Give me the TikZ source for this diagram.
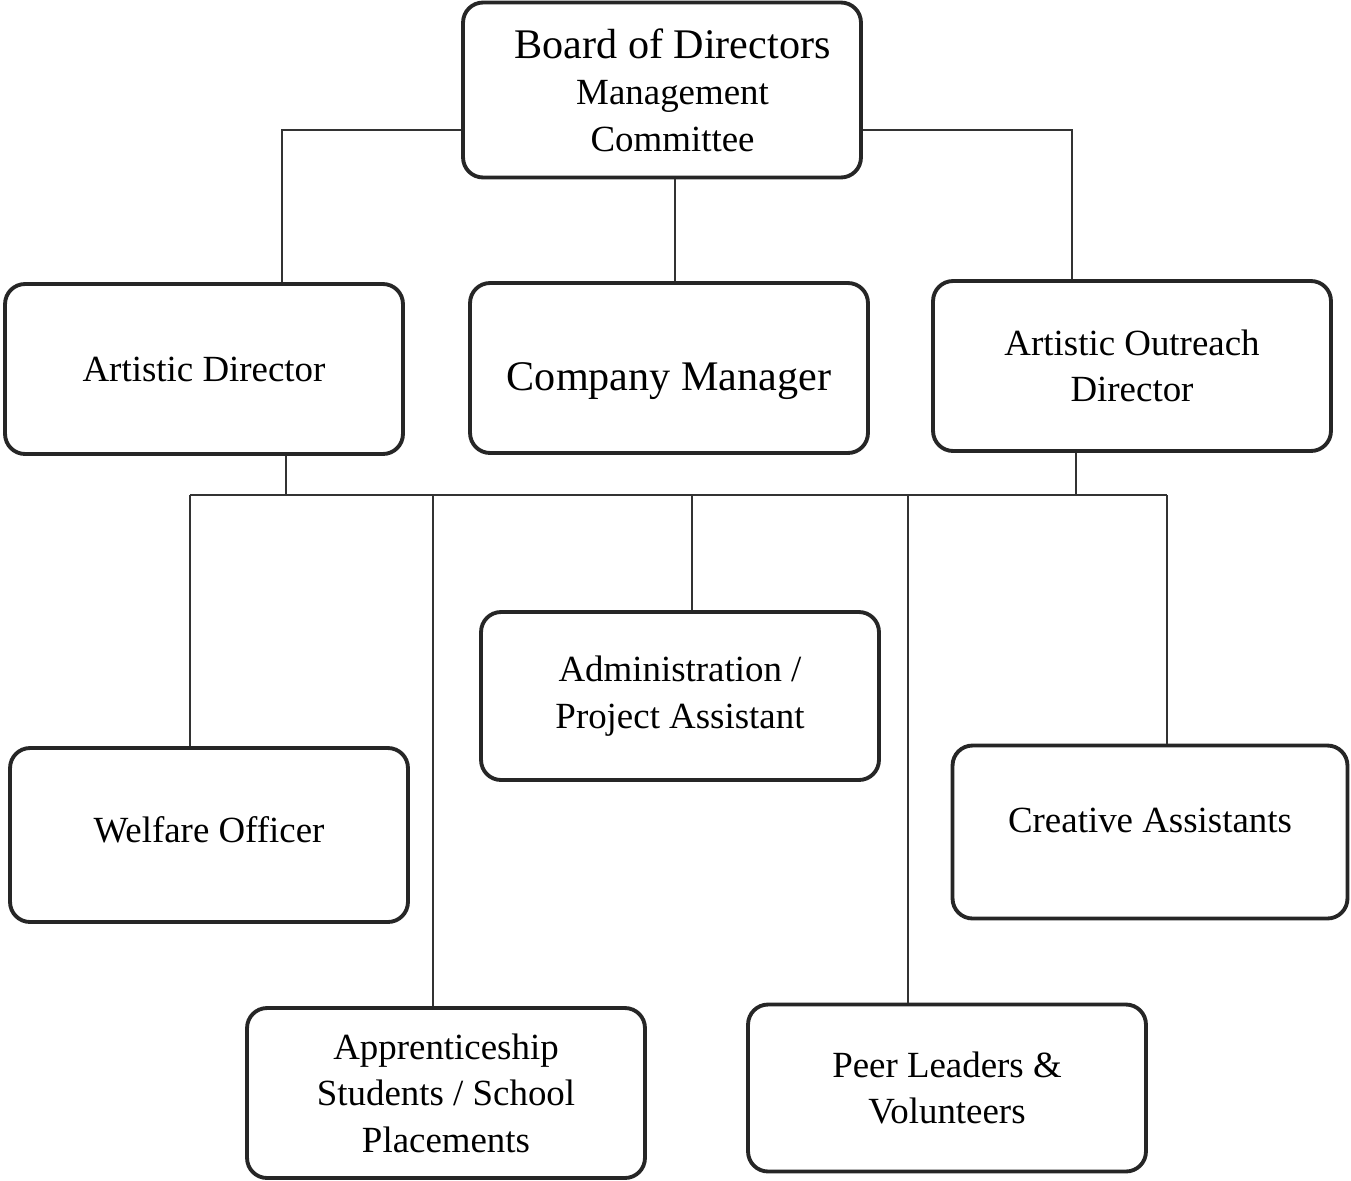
\documentclass[tikz,border=0pt]{standalone}
\usepackage{fontspec}
\setmainfont{Liberation Serif}
\usepackage{tikz}
\usetikzlibrary{positioning}

\tikzset{
  unit/.style={draw=black!85, line width=2.2pt, rounded corners=0.4cm,
    minimum width=7.96cm, minimum height=3.4cm, align=center, inner sep=0pt,
    font=\fontsize{21}{26.5}\selectfont},
  bigunit/.style={unit, font=\fontsize{24}{26.5}\selectfont},
  conn/.style={draw=black!80, line width=0.8pt}
}

\begin{document}
\begin{tikzpicture}[x=0.02cm, y=-0.02cm]
    \useasboundingbox (0,0) rectangle (1351,1180);

    % Sommet
    \node[unit, minimum height=3.5cm] (board) at (662,90)
      {\hspace*{12pt}{\fontsize{24}{26.5}\selectfont Board of Directors}\\[0pt]
       \hspace*{12pt}Management\\ \hspace*{12pt}Committee};

    % Direction
    \node[unit] (artdir) at (204,369) {Artistic Director};
    \node[bigunit] (compman) at (669,368) {\raisebox{-13pt}[0pt][0pt]{Company Manager}};
    \node[unit] (outdir) at (1132,366) {Artistic Outreach\\ Director};

    % Equipe
    \node[unit, minimum height=3.36cm] (admin) at (680,696) {Administration /\\ Project Assistant};
    \node[unit, minimum height=3.48cm] (welfare) at (209,835) {\raisebox{-4.5pt}[0pt][0pt]{Welfare Officer}};
    \node[unit, minimum width=7.9cm, minimum height=3.46cm] (creative) at (1150,832) {\raisebox{0pt}[0pt][0pt]{Creative Assistants}};
    \node[unit] (appr) at (446,1093) {Apprenticeship\\ Students / School\\ Placements};
    \node[unit, minimum height=3.34cm] (peer) at (947,1088) {Peer Leaders \&\\ Volunteers};

    % Liens vers la direction
    \draw[conn] (board.west |- 0,130) -| (artdir.north -| 282,0);
    \draw[conn] (board.east |- 0,130) -| (outdir.north -| 1072,0);
    \draw[conn] (board.south -| 675,0) -- (compman.north -| 675,0);

    % Bus horizontal
    \coordinate (busL) at (190,495);
    \coordinate (busR) at (1167,495);
    \draw[conn] (artdir.south -| 286,0) -- (286,495);
    \draw[conn] (outdir.south -| 1076,0) -- (1076,495);
    \draw[conn] (busL) -- (busR);

    % Descentes
    \draw[conn] (busL) -- (welfare.north -| busL);
    \draw[conn] (433,495) -- (appr.north -| 433,0);
    \draw[conn] (692,495) -- (admin.north -| 692,0);
    \draw[conn] (908,495) -- (peer.north -| 908,0);
    \draw[conn] (busR) -- (creative.north -| busR);
\end{tikzpicture}
\end{document}
